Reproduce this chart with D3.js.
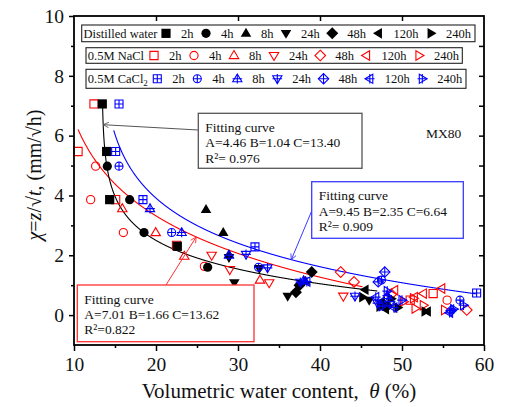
<!DOCTYPE html>
<html>
<head>
<meta charset="utf-8">
<script src="https://cdn.jsdelivr.net/npm/d3@7"></script>
<style>
  body { margin: 0; background: #fff; }
  text { font-family: "Liberation Serif", "Times New Roman", serif; fill: #111; }
</style>
</head>
<body>
<div id="chart"></div>
<script>
// time labels and marker shapes (same order)
const times = ["2h", "4h", "8h", "24h", "48h", "120h", "240h"];
const shapes = ["square", "circle", "up", "down", "diamond", "left", "right"];

// [theta %, chi mm/sqrt(h)] per time step
const waterPts = [
  [[13.45, 7.06], [13.98, 5.47], [14.35, 3.86], [22.6, 2.3]],
  [[14.06, 4.98], [16.79, 3.86], [18.54, 2.76], [26.3, 1.6]],
  [[26.1, 3.53], [28.2, 2.76], [28.9, 2.02], [38.2, 1.13]],
  [[28.9, 1.93], [29.55, 1.08], [32.6, 1.56], [36.06, 0.63], [46.0, 0.5]],
  [[37.07, 0.76], [38.99, 1.44], [37.5, 1.0], [48.2, 0.3]],
  [[45.5, 0.85], [47.5, 0.45], [48.0, 0.2], [53.1, 0.12]],
  [[45.2, 0.6], [47.3, 0.28], [48.7, 0.55], [49.5, 0.25], [52.8, 0.12]]
];
const naclPts = [
  [[12.44, 7.06], [10.49, 5.47], [15.08, 3.86], [22.5, 2.33], [53.8, 0.72], [51.0, 0.5]],
  [[12.64, 4.98], [12.03, 3.86], [16.02, 2.76], [25.9, 1.63], [55.5, 0.5]],
  [[15.89, 3.56], [19.96, 2.76], [23.45, 1.97], [32.68, 1.17]],
  [[26.79, 2.0], [29.0, 1.52], [33.8, 1.08], [42.84, 0.63]],
  [[42.52, 1.44], [44.15, 1.11], [57.9, 0.17], [48.7, 0.7]],
  [[54.84, 0.89], [52.6, 0.72], [49.1, 0.83], [51.5, 0.6]],
  [[51.4, 0.56], [51.6, 0.22], [50.2, 0.45], [52.6, 0.33], [55.2, 0.17]]
];
const caclPts = [
  [[15.49, 7.06], [15.08, 5.47], [18.41, 3.86], [32.07, 2.28], [59.1, 0.74]],
  [[15.49, 4.98], [21.91, 2.76], [32.5, 1.6], [47.5, 1.17], [57.07, 0.5]],
  [[19.27, 3.56], [23.13, 2.76], [28.9, 2.0], [38.0, 1.15], [48.2, 0.65]],
  [[30.98, 2.03], [33.6, 1.58], [44.27, 0.63], [37.6, 1.1], [47.0, 0.4]],
  [[47.9, 1.44], [47.1, 1.11], [48.5, 0.45], [56.0, 0.15]],
  [[46.8, 0.6], [49.0, 0.25], [55.8, 0.08], [38.4, 1.12]],
  [[48.2, 0.8], [50.0, 0.5], [57.5, 0.33], [56.3, 0.2], [47.6, 0.3]]
];

// fitted curves chi = a - b*ln(theta - c), as drawn, and their theta span
const fitWater = [4.46, 1.04, 13.40], spanWater = [13.48, 47];
const fitNacl = [8.96, 2.2, 7.0], spanNacl = [10.49, 45.2];
const fitCacl = [7.22, 1.7, 13.0], spanCacl = [14.85, 59.1];

const noteWater = ["Fitting curve", "A=4.46 B=1.04 C=13.40", "R²= 0.976"];
const noteCacl = ["Fitting curve", "A=9.45 B=2.35 C=6.64", "R²= 0.909"];
const noteNacl = ["Fitting curve", "A=7.01 B=1.66 C=13.62", "R²=0.822"];

const xTicks = [10, 20, 30, 40, 50, 60];
const yTicks = [0, 2, 4, 6, 8, 10];

const W = 506, H = 407;
const x = d3.scaleLinear().domain([10, 60]).range([74, 484]);
const y = d3.scaleLinear().domain([-1, 10]).range([345, 16]);

const svg = d3.select("#chart").append("svg")
  .attr("width", W).attr("height", H);

const defs = svg.append("defs");
function arrowDef(id, col) {
  defs.append("marker").attr("id", id)
    .attr("viewBox", "0 0 10 10").attr("refX", 9).attr("refY", 5)
    .attr("markerWidth", 7).attr("markerHeight", 7).attr("orient", "auto")
    .attr("markerUnits", "userSpaceOnUse")
    .append("path").attr("d", "M1,1 L9,5 L1,9")
    .attr("fill", "none").attr("stroke", col).attr("stroke-width", 1.2);
}
arrowDef("arrK", "#555");
arrowDef("arrB", "#3a3aff");
arrowDef("arrR", "#ff3030");

// marker outline with half size s
function shapePath(shape, s) {
  const p = d3.path();
  if (shape === "square") { p.rect(-s, -s, 2 * s, 2 * s); }
  else if (shape === "circle") { p.arc(0, 0, s, 0, 2 * Math.PI); }
  else if (shape === "diamond") {
    const d = s * 1.3;
    p.moveTo(0, -d); p.lineTo(d, 0); p.lineTo(0, d); p.lineTo(-d, 0); p.closePath();
  } else {
    const a = s * 1.2, b = s * 0.75, w = s * 1.15;
    let pts;
    if (shape === "up") pts = [[0, -a], [w, b], [-w, b]];
    if (shape === "down") pts = [[0, a], [w, -b], [-w, -b]];
    if (shape === "left") pts = [[-a, 0], [b, -w], [b, w]];
    if (shape === "right") pts = [[a, 0], [-b, -w], [-b, w]];
    p.moveTo(pts[0][0], pts[0][1]); p.lineTo(pts[1][0], pts[1][1]);
    p.lineTo(pts[2][0], pts[2][1]); p.closePath();
  }
  return p.toString();
}
function crossPath(shape, s) {
  const c = (shape === "diamond") ? s * 1.3 : (shape === "square" || shape === "circle") ? s : s * 1.2;
  return `M${-c},0H${c}M0,${-c}V${c}`;
}

function drawMarker(g, shape, style, cx, cy) {
  const t = g.append("g").attr("transform", `translate(${cx},${cy})`);
  if (style === "black") {
    t.append("path").attr("d", shapePath(shape, 4.6)).attr("fill", "#000");
  } else if (style === "red") {
    t.append("path").attr("d", shapePath(shape, 4.1))
      .attr("fill", "none").attr("stroke", "#ff0000").attr("stroke-width", 1.1);
  } else {
    t.append("path").attr("d", shapePath(shape, 4.0))
      .attr("fill", "none").attr("stroke", "#0000ff").attr("stroke-width", 1.1);
    t.append("path").attr("d", crossPath(shape, 4.0))
      .attr("fill", "none").attr("stroke", "#0000ff").attr("stroke-width", 1.1);
  }
}

// fitted curves
function fitLine(par, span) {
  const f = t => par[0] - par[1] * Math.log(t - par[2]);
  const ts = d3.range(span[0], span[1], 0.02).concat([span[1]]);
  return ts.map(t => [t, f(t)]);
}
const line = d3.line().x(d => x(d[0])).y(d => y(d[1]));
const curveG = svg.append("g").attr("fill", "none").attr("stroke-width", 1.1);
curveG.append("path").attr("d", line(fitLine(fitNacl, spanNacl))).attr("stroke", "#ff0000");
curveG.append("path").attr("d", line(fitLine(fitCacl, spanCacl))).attr("stroke", "#0000ff");
curveG.append("path").attr("d", line(fitLine(fitWater, spanWater))).attr("stroke", "#000");

// scatter
const ptsG = svg.append("g");
[[naclPts, "red"], [waterPts, "black"], [caclPts, "blue"]].forEach(([set, style]) => {
  set.forEach((arr, i) => {
    arr.forEach(d => drawMarker(ptsG, shapes[i], style, x(d[0]), y(d[1])));
  });
});

// axes
function styleAxis(g) {
  g.select(".domain").remove();
  g.selectAll("line").attr("stroke", "#000").attr("stroke-width", 1.5);
  g.selectAll("text").style("font-size", "19.5px").attr("fill", "#111");
}
svg.append("g").attr("transform", "translate(0,345)")
  .call(d3.axisBottom(x).tickValues(xTicks).tickSize(6).tickPadding(6).tickFormat(d3.format("d")))
  .call(styleAxis);
svg.append("g").attr("transform", "translate(0,345)")
  .call(d3.axisBottom(x).tickValues([15, 25, 35, 45, 55]).tickSize(3).tickFormat(""))
  .call(styleAxis);
svg.append("g").attr("transform", "translate(74,0)")
  .call(d3.axisLeft(y).tickValues(yTicks).tickSize(5).tickPadding(5).tickFormat(d3.format("d")))
  .call(styleAxis);
svg.append("g").attr("transform", "translate(74,0)")
  .call(d3.axisLeft(y).tickValues([1, 3, 5, 7, 9]).tickSize(3).tickFormat(""))
  .call(styleAxis);
svg.append("g").attr("transform", "translate(484,0)")
  .call(d3.axisLeft(y).tickValues(d3.range(0, 10)).tickSize(5).tickFormat(""))
  .call(styleAxis);
svg.append("g").attr("transform", "translate(0,16)")
  .call(d3.axisBottom(x).tickValues([20, 30, 40, 50]).tickSize(5).tickFormat(""))
  .call(styleAxis);

svg.append("rect").attr("x", 74).attr("y", 16).attr("width", 410).attr("height", 329)
  .attr("fill", "none").attr("stroke", "#000").attr("stroke-width", 1.8);

// axis titles
const xt = svg.append("text").attr("x", 279).attr("y", 398)
  .attr("text-anchor", "middle").style("font-size", "21px").style("white-space", "pre");
xt.append("tspan").text("Volumetric water content,  ");
xt.append("tspan").style("font-style", "italic").text("θ");
xt.append("tspan").text(" (%)");

const yt = svg.append("text").attr("transform", "translate(41,175) rotate(-90)")
  .attr("text-anchor", "middle").style("font-size", "20px");
yt.append("tspan").style("font-style", "italic").text("χ");
yt.append("tspan").text("=");
yt.append("tspan").style("font-style", "italic").text("z");
yt.append("tspan").text("/√");
yt.append("tspan").style("font-style", "italic").text("t");
yt.append("tspan").text(", (mm/√h)");

// legend rows
const legendRows = [
  { label: "Distilled water", style: "black", box: [81.7, 25, 475, 41.7], m0: 166 },
  { label: "0.5M NaCl", style: "red", box: [86, 47.7, 462.3, 63.3], m0: 154 },
  { label: "0.5M CaCl", sub: "2", style: "blue", box: [86, 69.3, 466, 88.3], m0: 157.3 }
];
legendRows.forEach(r => {
  const g = svg.append("g");
  const [x0, y0, x1, y1] = r.box;
  const cy = (y0 + y1) / 2;
  g.append("rect").attr("x", x0).attr("y", y0).attr("width", x1 - x0).attr("height", y1 - y0)
    .attr("fill", "#fff").attr("stroke", "#222").attr("stroke-width", 1.1);
  const lt = g.append("text").attr("x", x0 + 1.8).attr("y", cy).attr("dy", "0.35em")
    .style("font-size", "12.5px").text(r.label);
  if (r.sub) lt.append("tspan").attr("dy", 3).style("font-size", "9px").text(r.sub);
  let mx = r.m0;
  times.forEach((t, i) => {
    drawMarker(g, shapes[i], r.style, mx, cy);
    const tx = g.append("text").attr("x", mx + 15).attr("y", cy).attr("dy", "0.35em")
      .style("font-size", "12.5px").text(t);
    mx = mx + 15 + tx.node().getComputedTextLength() + 12.5;
  });
});

// annotation boxes with arrows to the curves
function note(lines, box, col, arrowId, from, tipT, par) {
  const [bx, by, bw, bh] = box;
  const tip = [x(tipT), y(par[0] - par[1] * Math.log(tipT - par[2]))];
  svg.append("line").attr("x1", from[0]).attr("y1", from[1])
    .attr("x2", tip[0]).attr("y2", tip[1])
    .attr("stroke", col).attr("stroke-width", 1).attr("marker-end", `url(#${arrowId})`);
  svg.append("rect").attr("x", bx).attr("y", by).attr("width", bw).attr("height", bh)
    .attr("fill", "#fff").attr("stroke", col).attr("stroke-width", 1.3);
  lines.forEach((s, i) => {
    svg.append("text").attr("x", bx + 7).attr("y", by + 14 + i * 15.3).attr("dy", "0.35em")
      .style("font-size", "13.5px").text(s);
  });
}
note(noteWater, [198.3, 113.3, 163.7, 55], "#555", "arrK", [198.3, 130], 13.56, fitWater);
note(noteCacl, [311.7, 181.7, 151.6, 56.6], "#3a3aff", "arrB", [311.7, 211], 36.5, fitCacl);
note(noteNacl, [77.3, 285, 176.7, 56.7], "#ff3030", "arrR", [166, 285], 24.9, fitNacl);

svg.append("text").attr("x", 426).attr("y", 133).attr("dy", "0.35em")
  .style("font-size", "13.5px").text("MX80");
</script>
</body>
</html>
